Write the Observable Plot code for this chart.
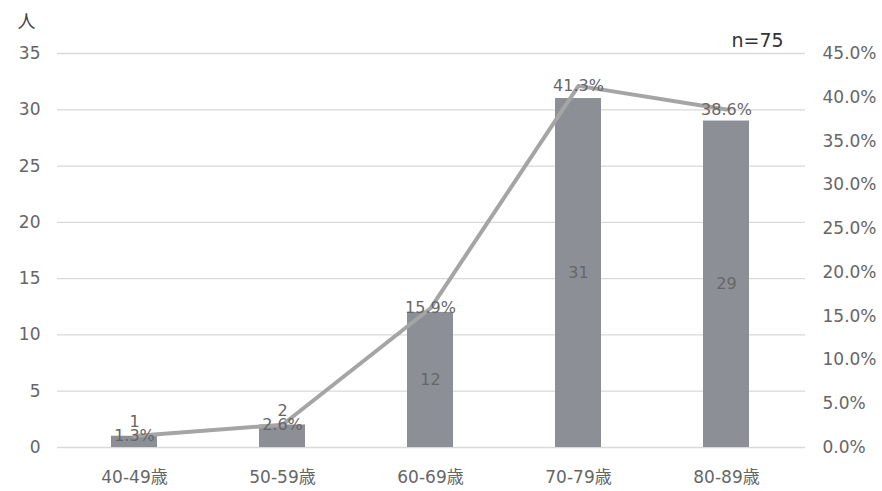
<!DOCTYPE html>
<html><head><meta charset="utf-8">
<script src="https://cdn.jsdelivr.net/npm/d3@7"></script>
<script src="https://cdn.jsdelivr.net/npm/@observablehq/plot@0.6"></script>
<style>body{margin:0;background:#fff;}</style>
</head><body><div id="chart"></div>
<script>
const ages = ["40-49歳","50-59歳","60-69歳","70-79歳","80-89歳"];
const counts = [1, 2, 12, 31, 29];
const pcts = [1.3, 2.6, 15.9, 41.3, 38.6];
const leftTicks = [0, 5, 10, 15, 20, 25, 30, 35];
const rightTicks = [0, 5, 10, 15, 20, 25, 30, 35, 40, 45];
const countMax = 35, pctMax = 45;
const unitLabel = "人";
const nLabel = "n=75";

const data = ages.map((a, i) => ({age: a, count: counts[i], pct: pcts[i]}));
const toY = p => p * countMax / pctMax;
const font = "'DejaVu Sans', 'Noto Sans CJK JP', sans-serif";
const txt = "#666666";

const chart = Plot.plot({
  width: 882, height: 491,
  marginTop: 53, marginBottom: 44, marginLeft: 57, marginRight: 77,
  style: {fontFamily: font, fontSize: "17px", color: txt, background: "#fff", overflow: "visible"},
  x: {domain: ages, paddingInner: 0.69, paddingOuter: 0.345, insetLeft: 2, insetRight: 4, label: null},
  y: {domain: [0, countMax], label: null},
  marks: [
    Plot.gridY(leftTicks, {stroke: "#d9d9d9", strokeOpacity: 1, strokeWidth: 1.3}),
    Plot.axisY({ticks: leftTicks, tickSize: 0, tickPadding: 17, label: null, fill: txt, fontSize: 17}),
    Plot.axisY({anchor: "right", ticks: rightTicks.map(toY), tickSize: 0, tickPadding: 17, label: null, fill: txt, fontSize: 17,
      tickFormat: v => (Math.round(v * pctMax / countMax * 10) / 10).toFixed(1) + "%"}),
    Plot.axisX({tickSize: 0, tickPadding: 23, label: null, fill: txt, fontSize: 17}),
    Plot.barY(data, {x: "age", y: "count", fill: "#8d8f97"}),
    Plot.text(data.filter(d => d.count >= 5), {x: "age", y: d => d.count / 2, text: "count", fill: txt, fontSize: 16}),
    Plot.text(data.filter(d => d.count < 5), {x: "age", y: "count", dy: -14, text: "count", fill: txt, fontSize: 16}),
    Plot.line(data, {x: "age", y: d => toY(d.pct), stroke: "#a5a5a5", strokeWidth: 4}),
    Plot.text(data, {x: "age", y: d => toY(d.pct), dy: 0, text: d => d.pct.toFixed(1) + "%", fill: txt, fontSize: 16}),
    Plot.text([unitLabel], {frameAnchor: "top-left", text: d => d, dx: -31, dy: -31, lineAnchor: "middle", textAnchor: "middle", fill: "#404040", fontSize: 18}),
    Plot.text([nLabel], {frameAnchor: "top-right", text: d => d, dx: -48, dy: -13, lineAnchor: "middle", textAnchor: "middle", fill: "#333333", fontSize: 19})
  ]
});
document.getElementById("chart").append(chart);
</script>
</body></html>
